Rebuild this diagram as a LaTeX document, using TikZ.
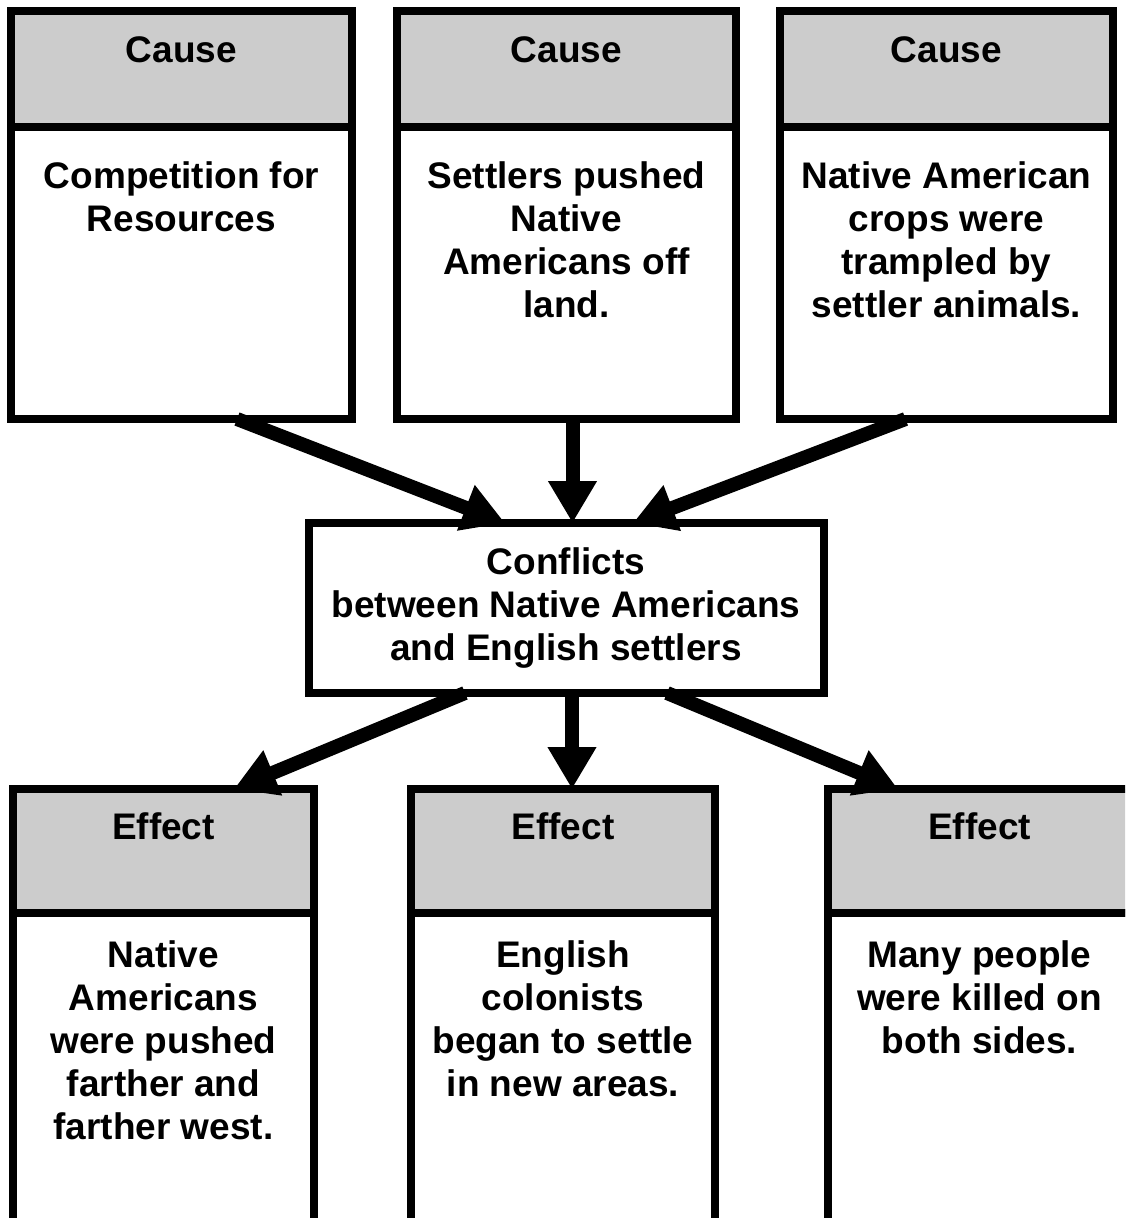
\documentclass[tikz,border=0pt]{standalone}
\usepackage{fontspec}
\setmainfont{Liberation Sans}
\usetikzlibrary{arrows.meta,positioning}
\definecolor{headgray}{gray}{0.8}

\begin{document}
\begin{tikzpicture}[x=1pt,y=-1pt,
    box/.style={draw,line width=8pt,outer sep=0pt,inner sep=0pt,
      font=\fontsize{37}{43}\selectfont\bfseries},
    causehead/.style={box,fill=headgray,minimum height=116pt,
      text height=26.5pt,text depth=40.5pt},
    effecthead/.style={box,fill=headgray,minimum height=124pt,
      text height=26.5pt,text depth=50.5pt},
    txt/.style={inner sep=0pt,align=center,
      font=\fontsize{37}{43}\selectfont\bfseries},
    bigarrow/.style={line width=14pt,-{Triangle[length=42pt,width=46pt]}}]

      \useasboundingbox (0,0) rectangle (1125,1218);
      \clip (0,0) rectangle (1125,1218);

      % causes
      \node[causehead,minimum width=341pt,anchor=north] (c1h) at (181.5,11) {Cause};
      \node[box,minimum width=341pt,minimum height=292pt,anchor=north] (c1) at (c1h.south) {};
      \node[txt,anchor=north] (c1t) at ([yshift=-34pt]c1.north) {Competition for\\Resources};

      \node[causehead,minimum width=339pt,anchor=north] (c2h) at (566.5,11) {Cause};
      \node[box,minimum width=339pt,minimum height=292pt,anchor=north] (c2) at (c2h.south) {};
      \node[txt,anchor=north] (c2t) at ([yshift=-34pt]c2.north) {Settlers pushed\\Native\\Americans off\\land.};

      \node[causehead,minimum width=333pt,anchor=north] (c3h) at (946.5,11) {Cause};
      \node[box,minimum width=333pt,minimum height=292pt,anchor=north] (c3) at (c3h.south) {};
      \node[txt,anchor=north] (c3t) at ([yshift=-34pt]c3.north) {Native American\\crops were\\trampled by\\settler animals.};

      % conflict
      \node[box,align=center,minimum width=515pt,minimum height=170pt] (mid) at (566,608)
        {Conflicts\\between Native Americans\\and English settlers};

      % effects
      \node[effecthead,minimum width=301pt,anchor=north] (e1h) at (163.5,789) {Effect};
      \node[box,minimum width=301pt,minimum height=340pt,anchor=north] (e1) at (e1h.south) {};
      \node[txt,anchor=north] (e1t) at ([yshift=-27.5pt]e1.north) {Native\\Americans\\were pushed\\farther and\\farther west.};

      \node[effecthead,minimum width=304pt,anchor=north] (e2h) at (563,789) {Effect};
      \node[box,minimum width=304pt,minimum height=340pt,anchor=north] (e2) at (e2h.south) {};
      \node[txt,anchor=north] (e2t) at ([yshift=-27.5pt]e2.north) {English\\colonists\\began to settle\\in new areas.};

      \node[effecthead,minimum width=303pt,anchor=north] (e3h) at (979.5,789) {Effect};
      \node[box,minimum width=303pt,minimum height=340pt,anchor=north] (e3) at (e3h.south) {};
      \node[txt,anchor=north] (e3t) at ([yshift=-27.5pt]e3.north) {Many people\\were killed on\\both sides.};

      % arrows in
      \draw[bigarrow] ([xshift=55.5pt]c1.south) -- ([xshift=-61pt]mid.north);
      \draw[bigarrow] ([xshift=6pt]c2.south) -- ([xshift=6pt]c2.south |- mid.north);
      \draw[bigarrow] ([xshift=-41pt]c3.south) -- ([xshift=67pt]mid.north);

      % arrows out
      \draw[bigarrow] ([xshift=-101pt]mid.south) -- ([xshift=70.5pt]e1h.north);
      \draw[bigarrow] ([xshift=6pt]mid.south) -- ([xshift=6pt]mid.south |- e2h.north);
      \draw[bigarrow] ([xshift=101pt]mid.south) -- ([xshift=-81.5pt]e3h.north);
    \end{tikzpicture}
\end{document}
